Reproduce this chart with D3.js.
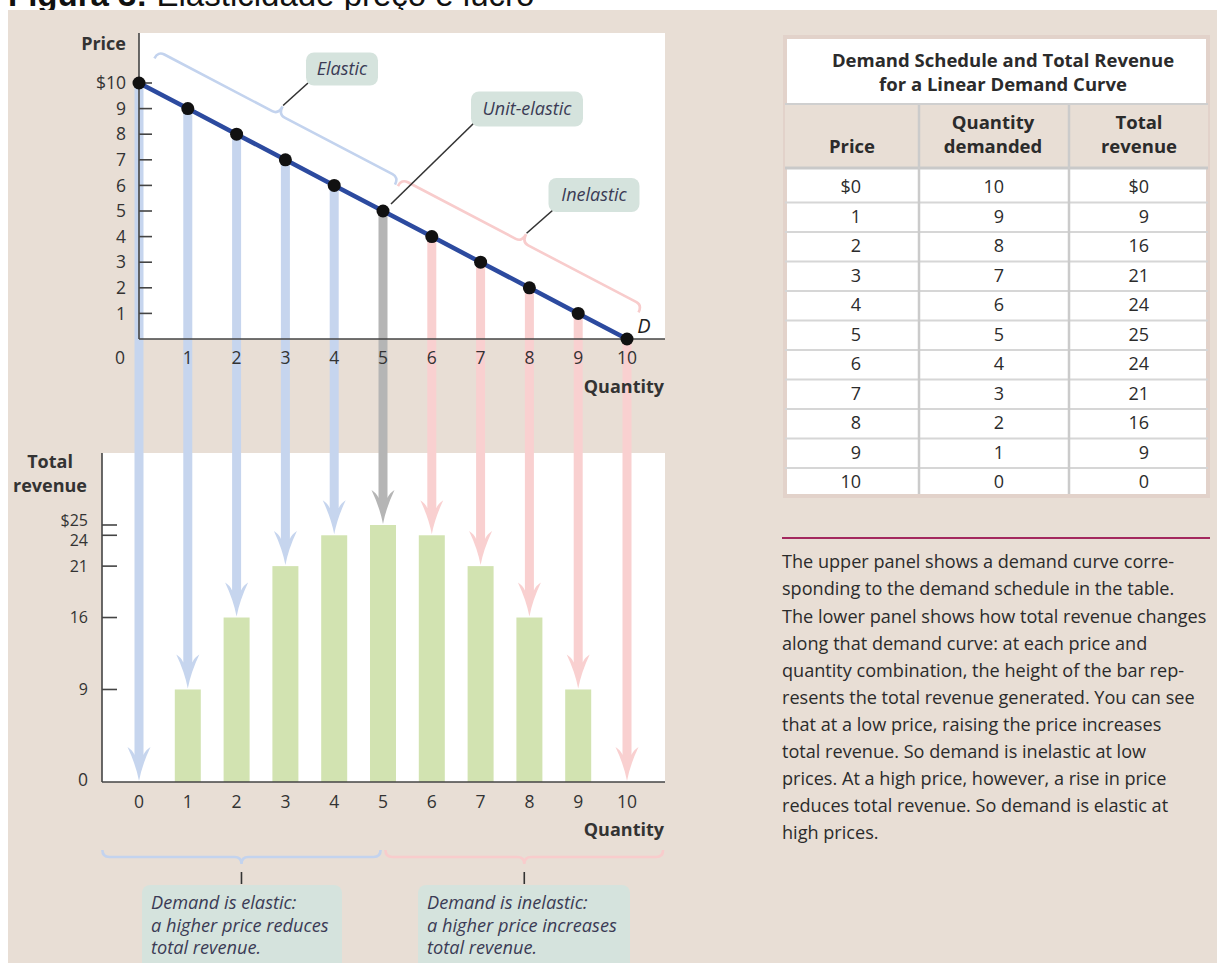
<!DOCTYPE html>
<html>
<head>
<meta charset="utf-8">
<script src="https://cdn.jsdelivr.net/npm/d3@7"></script>
<style>
  html, body { margin: 0; padding: 0; background: #ffffff; }
  svg { display: block; }
</style>
</head>
<body>
<svg id="fig" width="1217" height="963"></svg>
<script>
// ---- data ----
const quantity = [0, 1, 2, 3, 4, 5, 6, 7, 8, 9, 10];
const priceAtQuantity = [10, 9, 8, 7, 6, 5, 4, 3, 2, 1, 0];
const totalRevenue = [0, 9, 16, 21, 24, 25, 24, 21, 16, 9, 0];
const zone = ["elastic", "elastic", "elastic", "elastic", "elastic", "unit",
              "inelastic", "inelastic", "inelastic", "inelastic", "inelastic"];

const priceTicks = [1, 2, 3, 4, 5, 6, 7, 8, 9, 10];
const priceTickLabels = ["1", "2", "3", "4", "5", "6", "7", "8", "9", "$10"];
const revenueTicks = [9, 16, 21, 24, 25];
const revenueTickLabels = ["9", "16", "21", "24", "$25"];
const quantityTicks = [0, 1, 2, 3, 4, 5, 6, 7, 8, 9, 10];

const tablePrice = ["$0", "1", "2", "3", "4", "5", "6", "7", "8", "9", "10"];
const tableQuantity = ["10", "9", "8", "7", "6", "5", "4", "3", "2", "1", "0"];
const tableRevenue = ["$0", "9", "16", "21", "24", "25", "24", "21", "16", "9", "0"];

const captionLines = [
  "The upper panel shows a demand curve corre-",
  "sponding to the demand schedule in the table.",
  "The lower panel shows how total revenue changes",
  "along that demand curve: at each price and",
  "quantity combination, the height of the bar rep-",
  "resents the total revenue generated. You can see",
  "that at a low price, raising the price increases",
  "total revenue. So demand is inelastic at low",
  "prices. At a high price, however, a rise in price",
  "reduces total revenue. So demand is elastic at",
  "high prices."
];

// ---- styling ----
const FONT = "'Open Sans', 'Noto Sans', sans-serif";
const INK = "#333333";
const BEIGE = "#e8ded5";
const arrowColor = { elastic: "#c6d5ee", unit: "#b5b5b5", inelastic: "#f9d0d0" };
const braceColor = { elastic: "#c3d3ee", inelastic: "#f8cccc" };
const BAR = "#d2e3b1";
const NOTE = "#d5e3dd";
const NOTE_INK = "#3b3b55";

const svg = d3.select("#fig");

// page title, cut by the top edge
const title = svg.append("text").attr("x", 8).attr("y", 6)
  .attr("font-family", "'Liberation Sans', Arial, sans-serif").attr("font-size", 33).attr("fill", "#111");
title.append("tspan").attr("font-weight", "bold").text("Figura 3:");
title.append("tspan").text(" Elasticidade preço e lucro");

// beige panel
svg.append("rect").attr("x", 8).attr("y", 10).attr("width", 1209).attr("height", 953).attr("fill", BEIGE);

// ---- scales ----
const x = d3.scaleLinear().domain([0, 10]).range([139, 627]);
const yP = d3.scaleLinear().domain([0, 10]).range([339, 83]);
const yR = d3.scaleLinear().domain([0, 25]).range([782, 525]);

const upper = { left: 139, right: 665, top: 33, bottom: 339 };
const lower = { left: 102, right: 665, top: 453, bottom: 782 };

// plot backgrounds
svg.append("rect").attr("x", upper.left).attr("y", upper.top)
  .attr("width", upper.right - upper.left).attr("height", upper.bottom - upper.top).attr("fill", "#fff");
svg.append("rect").attr("x", lower.left).attr("y", lower.top)
  .attr("width", lower.right - lower.left).attr("height", lower.bottom - lower.top).attr("fill", "#fff");

// ---- revenue bars ----
const barW = 26;
svg.append("g").selectAll("rect")
  .data(quantity.filter((q, i) => totalRevenue[i] > 0))
  .join("rect")
  .attr("x", q => x(q) - barW / 2)
  .attr("y", q => yR(totalRevenue[q]))
  .attr("width", barW)
  .attr("height", q => yR(0) - yR(totalRevenue[q]))
  .attr("fill", BAR);

// ---- arrows from demand points down to revenue bars ----
function arrowPath(cx, y0, tip) {
  const hw = 4.5, wing = 11.5, headLen = 34;
  return `M${cx - hw},${y0} L${cx - hw},${tip - headLen + 8}
    Q${cx - hw - 2},${tip - headLen + 3} ${cx - wing},${tip - headLen}
    Q${cx - 3},${tip - 16} ${cx},${tip}
    Q${cx + 3},${tip - 16} ${cx + wing},${tip - headLen}
    Q${cx + hw + 2},${tip - headLen + 3} ${cx + hw},${tip - headLen + 8}
    L${cx + hw},${y0} Z`;
}
svg.append("g").selectAll("path")
  .data(quantity)
  .join("path")
  .attr("d", q => arrowPath(x(q), yP(priceAtQuantity[q]), yR(totalRevenue[q]) - 1))
  .attr("fill", q => arrowColor[zone[q]]);

// ---- axes ----
const axisStroke = "#444";
const TICK_FS = 17.5, AXIS_FS = 18;
// upper
svg.append("line").attr("x1", upper.left).attr("x2", upper.left).attr("y1", upper.top).attr("y2", upper.bottom)
  .attr("stroke", axisStroke).attr("stroke-width", 1.6);
svg.append("line").attr("x1", upper.left).attr("x2", upper.right).attr("y1", upper.bottom).attr("y2", upper.bottom)
  .attr("stroke", axisStroke).attr("stroke-width", 1.6);
svg.append("g").selectAll("line").data(priceTicks).join("line")
  .attr("x1", upper.left).attr("x2", upper.left + 13)
  .attr("y1", d => yP(d)).attr("y2", d => yP(d))
  .attr("stroke", axisStroke).attr("stroke-width", 1.6);
svg.append("g").selectAll("text").data(priceTicks).join("text")
  .attr("x", 126).attr("y", d => yP(d)).attr("dy", "0.35em")
  .attr("text-anchor", "end").attr("font-family", FONT).attr("font-size", TICK_FS).attr("fill", INK)
  .text((d, i) => priceTickLabels[i]);
svg.append("text").attr("x", 120).attr("y", 358).attr("dy", "0.35em").attr("text-anchor", "middle")
  .attr("font-family", FONT).attr("font-size", TICK_FS).attr("fill", INK).text("0");
svg.append("g").selectAll("text").data(quantityTicks.slice(1)).join("text")
  .attr("x", d => x(d)).attr("y", 358).attr("dy", "0.35em").attr("text-anchor", "middle")
  .attr("font-family", FONT).attr("font-size", TICK_FS).attr("fill", INK).text(d => d);
svg.append("text").attr("x", 126).attr("y", 44).attr("dy", "0.35em").attr("text-anchor", "end")
  .attr("font-family", FONT).attr("font-weight", "bold").attr("font-size", AXIS_FS).attr("fill", INK).text("Price");
svg.append("text").attr("x", 664).attr("y", 387).attr("dy", "0.35em").attr("text-anchor", "end")
  .attr("font-family", FONT).attr("font-weight", "bold").attr("font-size", AXIS_FS).attr("fill", INK).text("Quantity");

// lower
svg.append("line").attr("x1", lower.left).attr("x2", lower.left).attr("y1", lower.top).attr("y2", lower.bottom)
  .attr("stroke", axisStroke).attr("stroke-width", 1.6);
svg.append("line").attr("x1", lower.left).attr("x2", lower.right).attr("y1", lower.bottom).attr("y2", lower.bottom)
  .attr("stroke", axisStroke).attr("stroke-width", 1.6);
svg.append("g").selectAll("line").data(revenueTicks).join("line")
  .attr("x1", lower.left).attr("x2", lower.left + 15)
  .attr("y1", d => yR(d)).attr("y2", d => yR(d))
  .attr("stroke", axisStroke).attr("stroke-width", 1.6);
// the $25 and 24 labels sit one unit apart, so nudge them apart vertically
svg.append("g").selectAll("text").data(revenueTicks).join("text")
  .attr("x", 88).attr("y", d => yR(d) + (d === 25 ? -5 : d === 24 ? 5 : 0)).attr("dy", "0.35em")
  .attr("text-anchor", "end").attr("font-family", FONT).attr("font-size", 16).attr("fill", INK)
  .text((d, i) => revenueTickLabels[i]);
svg.append("text").attr("x", 88).attr("y", 780).attr("dy", "0.35em").attr("text-anchor", "end")
  .attr("font-family", FONT).attr("font-size", TICK_FS).attr("fill", INK).text("0");
svg.append("g").selectAll("text").data(quantityTicks).join("text")
  .attr("x", d => x(d)).attr("y", 802).attr("dy", "0.35em").attr("text-anchor", "middle")
  .attr("font-family", FONT).attr("font-size", TICK_FS).attr("fill", INK).text(d => d);
svg.append("text").attr("x", 664).attr("y", 830).attr("dy", "0.35em").attr("text-anchor", "end")
  .attr("font-family", FONT).attr("font-weight", "bold").attr("font-size", AXIS_FS).attr("fill", INK).text("Quantity");
const trLabel = svg.append("text").attr("font-family", FONT).attr("font-weight", "bold")
  .attr("font-size", AXIS_FS).attr("fill", INK).attr("text-anchor", "middle");
trLabel.append("tspan").attr("x", 50).attr("y", 462).attr("dy", "0.35em").text("Total");
trLabel.append("tspan").attr("x", 50).attr("y", 486).attr("dy", "0.35em").text("revenue");

// ---- braces along the demand curve ----
const p0 = [x(0), yP(10)], p1 = [x(10), yP(0)];
const len = Math.hypot(p1[0] - p0[0], p1[1] - p0[1]);
const dir = [(p1[0] - p0[0]) / len, (p1[1] - p0[1]) / len];
const nrm = [dir[1], -dir[0]];               // points up and to the right
const toXY = (u, v) => [p0[0] + u * dir[0] + v * nrm[0], p0[1] + u * dir[1] + v * nrm[1]];

function bracePath(a, b, w, map) {
  const m = (a + b) / 2, c = 7;
  const P = (u, v) => map(u, v).join(",");
  return `M${P(a, w - 8)} Q${P(a, w)} ${P(a + c, w)} L${P(m - c, w)} Q${P(m, w)} ${P(m, w + 9)}
          Q${P(m, w)} ${P(m + c, w)} L${P(b - c, w)} Q${P(b, w)} ${P(b, w - 8)}`;
}
const braceW = 37;
const along = q => (q / 10) * len;
svg.append("path").attr("d", bracePath(along(0.04), along(4.97), braceW, toXY))
  .attr("fill", "none").attr("stroke", braceColor.elastic).attr("stroke-width", 2.6);
svg.append("path").attr("d", bracePath(along(5.03), along(9.96), braceW, toXY))
  .attr("fill", "none").attr("stroke", braceColor.inelastic).attr("stroke-width", 2.6);

// ---- annotation boxes ----
function noteBox(cx, cy, w, h, label) {
  svg.append("rect").attr("x", cx - w / 2).attr("y", cy - h / 2).attr("width", w).attr("height", h)
    .attr("rx", 8).attr("fill", NOTE);
  svg.append("text").attr("x", cx).attr("y", cy).attr("dy", "0.35em").attr("text-anchor", "middle")
    .attr("font-family", FONT).attr("font-style", "italic").attr("font-size", 18).attr("fill", NOTE_INK)
    .text(label);
}
function leader(from, to) {
  svg.append("line").attr("x1", from[0]).attr("y1", from[1]).attr("x2", to[0]).attr("y2", to[1])
    .attr("stroke", "#333").attr("stroke-width", 1.6);
}
const nubE = toXY(along(2.505), braceW + 10);
const nubI = toXY(along(7.495), braceW + 10);
leader(nubE, [308, 83]);
leader(nubI, [553, 210]);
leader([x(5) + 8, yP(5) - 7], [474, 123]);

noteBox(342, 69, 72, 33, "Elastic");
noteBox(527, 109, 112, 35, "Unit-elastic");
noteBox(594, 195, 91, 34, "Inelastic");

// ---- demand curve and points ----
svg.append("path")
  .attr("d", d3.line().x(q => x(q)).y(q => yP(priceAtQuantity[q]))(quantity))
  .attr("fill", "none").attr("stroke", "#2c4a9f").attr("stroke-width", 4.5);
svg.append("g").selectAll("circle").data(quantity).join("circle")
  .attr("cx", q => x(q)).attr("cy", q => yP(priceAtQuantity[q])).attr("r", 6.5).attr("fill", "#111");
svg.append("text").attr("x", 644).attr("y", 326).attr("dy", "0.35em").attr("text-anchor", "middle")
  .attr("font-family", FONT).attr("font-style", "italic").attr("font-size", 20).attr("fill", "#222").text("D");

// ---- braces under the revenue panel ----
function hBrace(a, b, color) {
  const m = (a + b) / 2, c = 7, y = 857;
  svg.append("path")
    .attr("d", `M${a},${y - 7} Q${a},${y} ${a + c},${y} L${m - c},${y} Q${m},${y} ${m},${y + 7}
                Q${m},${y} ${m + c},${y} L${b - c},${y} Q${b},${y} ${b},${y - 7}`)
    .attr("fill", "none").attr("stroke", color).attr("stroke-width", 2.6);
  svg.append("line").attr("x1", m).attr("x2", m).attr("y1", 872).attr("y2", 884)
    .attr("stroke", "#333").attr("stroke-width", 1.6);
}
hBrace(x(-0.75), x(4.95), braceColor.elastic);
hBrace(x(5.05), x(10.74), braceColor.inelastic);

function multiNote(x0, w, lines) {
  svg.append("rect").attr("x", x0).attr("y", 885).attr("width", w).attr("height", 100)
    .attr("rx", 8).attr("fill", NOTE);
  const t = svg.append("text").attr("font-family", FONT).attr("font-style", "italic")
    .attr("font-size", 18.2).attr("fill", NOTE_INK);
  lines.forEach((s, i) => t.append("tspan").attr("x", x0 + 9).attr("y", 903 + i * 22.5)
    .attr("dy", "0.35em").text(s));
}
multiNote(142, 200, ["Demand is elastic:", "a higher price reduces", "total revenue."]);
multiNote(418, 212, ["Demand is inelastic:", "a higher price increases", "total revenue."]);

// ---- demand schedule table ----
const tbl = { left: 785, right: 1208, top: 37, bottom: 496 };
const colDiv = [919, 1069];
const colRight = [861, 1004, 1149];
const rowTop = 170, rowH = 29.5;
svg.append("rect").attr("x", tbl.left).attr("y", tbl.top)
  .attr("width", tbl.right - tbl.left).attr("height", tbl.bottom - tbl.top)
  .attr("fill", "#fff").attr("stroke", "#e2d2ca").attr("stroke-width", 4);
svg.append("rect").attr("x", tbl.left).attr("y", 104).attr("width", tbl.right - tbl.left).attr("height", 63)
  .attr("fill", BEIGE);
svg.append("line").attr("x1", tbl.left).attr("x2", tbl.right).attr("y1", 104).attr("y2", 104)
  .attr("stroke", "#cfcfcf").attr("stroke-width", 2);
svg.append("line").attr("x1", tbl.left).attr("x2", tbl.right).attr("y1", 168).attr("y2", 168)
  .attr("stroke", "#c9c9c9").attr("stroke-width", 3);
svg.append("g").selectAll("line").data(d3.range(1, tablePrice.length)).join("line")
  .attr("x1", tbl.left).attr("x2", tbl.right)
  .attr("y1", i => rowTop + i * rowH + 3).attr("y2", i => rowTop + i * rowH + 3)
  .attr("stroke", "#d6d6d6").attr("stroke-width", 2);
svg.append("g").selectAll("line").data(colDiv).join("line")
  .attr("x1", d => d).attr("x2", d => d).attr("y1", 105).attr("y2", tbl.bottom - 2)
  .attr("stroke", "#cbcbcb").attr("stroke-width", 2.5);

const tTitle = svg.append("text").attr("text-anchor", "middle").attr("font-family", FONT)
  .attr("font-weight", "bold").attr("font-size", 18.5).attr("fill", "#2b2b2b");
tTitle.append("tspan").attr("x", 1003).attr("y", 61).attr("dy", "0.35em").text("Demand Schedule and Total Revenue");
tTitle.append("tspan").attr("x", 1003).attr("y", 85).attr("dy", "0.35em").text("for a Linear Demand Curve");

const headers = [["Price"], ["Quantity", "demanded"], ["Total", "revenue"]];
const headCx = [852, 993, 1139];
headers.forEach((lines, c) => {
  const t = svg.append("text").attr("text-anchor", "middle").attr("font-family", FONT)
    .attr("font-weight", "bold").attr("font-size", 18.5).attr("fill", "#2b2b2b");
  lines.forEach((s, i) => t.append("tspan").attr("x", headCx[c])
    .attr("y", 147 - (lines.length - 1 - i) * 24).attr("dy", "0.35em").text(s));
});
[tablePrice, tableQuantity, tableRevenue].forEach((col, c) => {
  svg.append("g").selectAll("text").data(col).join("text")
    .attr("x", colRight[c]).attr("y", (d, i) => 187 + i * rowH).attr("dy", "0.35em")
    .attr("text-anchor", "end").attr("font-family", FONT).attr("font-size", 18).attr("fill", "#2b2b2b")
    .text(d => d);
});

// ---- caption ----
svg.append("line").attr("x1", 782).attr("x2", 1210).attr("y1", 538).attr("y2", 538)
  .attr("stroke", "#a3285e").attr("stroke-width", 2.2);
svg.append("g").selectAll("text").data(captionLines).join("text")
  .attr("x", 782).attr("y", (d, i) => 562 + i * 27.1).attr("dy", "0.35em")
  .attr("font-family", FONT).attr("font-size", 18.1).attr("fill", "#2b2b2b").text(d => d);
</script>
</body>
</html>
